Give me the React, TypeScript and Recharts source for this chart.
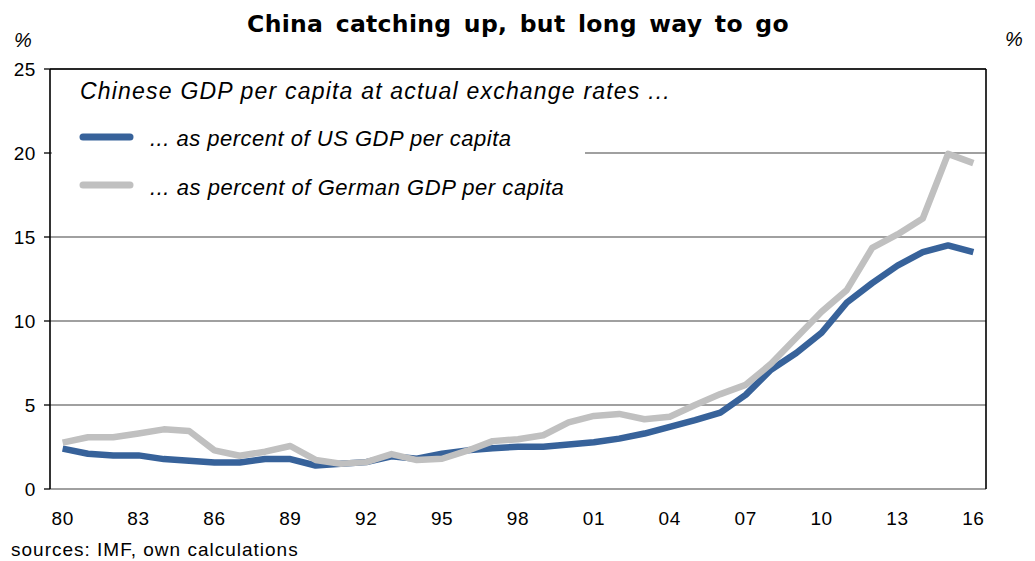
import React from "react";
import {
  LineChart,
  Line,
  XAxis,
  YAxis,
  CartesianGrid,
  ReferenceLine,
  Legend,
} from "recharts";

const years = [
  1980, 1981, 1982, 1983, 1984, 1985, 1986, 1987, 1988, 1989, 1990, 1991,
  1992, 1993, 1994, 1995, 1996, 1997, 1998, 1999, 2000, 2001, 2002, 2003,
  2004, 2005, 2006, 2007, 2008, 2009, 2010, 2011, 2012, 2013, 2014, 2015,
  2016,
];

const usShare = [
  2.4, 2.1, 2.0, 2.0, 1.78, 1.68, 1.58, 1.58, 1.78, 1.78, 1.4, 1.5, 1.6,
  1.95, 1.8, 2.1, 2.3, 2.42, 2.52, 2.52, 2.65, 2.78, 3.0, 3.3, 3.7, 4.1,
  4.55, 5.6, 7.1, 8.1, 9.3, 11.1, 12.25, 13.3, 14.1, 14.5, 14.1,
];

const germanShare = [
  2.76, 3.08, 3.08, 3.3, 3.55, 3.45, 2.3, 1.98, 2.22, 2.56, 1.73, 1.5, 1.6,
  2.08, 1.72, 1.8, 2.28, 2.85, 2.96, 3.2, 3.97, 4.35, 4.47, 4.15, 4.3, 5.0,
  5.65, 6.2, 7.45, 9.0, 10.55, 11.85, 14.35, 15.15, 16.1, 19.95, 19.4,
];

const xLabelYears = [1980, 1983, 1986, 1989, 1992, 1995, 1998, 2001, 2004, 2007, 2010, 2013, 2016];
const xTickLabels = ["80", "83", "86", "89", "92", "95", "98", "01", "04", "07", "10", "13", "16"];
const yTicks = [0, 5, 10, 15, 20, 25];

const legendTitle = "Chinese GDP per capita at actual exchange rates ...";
const usLabel = "... as percent of US GDP per capita";
const deLabel = "... as percent of German GDP per capita";

const BLUE = "#37629A";
const GRAY = "#C0C0C0";

const data = years.map((y, i) => ({ year: y, us: usShare[i], de: germanShare[i] }));
const boundaryTicks = years.map((y) => y - 0.5).concat([years[years.length - 1] + 0.5]);

const sansFont = "'Liberation Sans', Arial, sans-serif";

const LegendBox = () => (
  <svg width={640} height={140} style={{ display: "block", overflow: "visible" }}>
    <rect x={0} y={41} width={533} height={99} fill="#fff" />
    <text x={28} y={27} fontFamily={sansFont} fontStyle="italic" fontSize={23} fill="#000" letterSpacing={1.2}>
      {legendTitle}
    </text>
    <line x1={31} x2={78} y1={65} y2={65} stroke={BLUE} strokeWidth={7} strokeLinecap="round" />
    <text x={98} y={74} fontFamily={sansFont} fontStyle="italic" fontSize={22} fill="#000" letterSpacing={0.5}>
      {usLabel}
    </text>
    <line x1={31} x2={78} y1={113} y2={113} stroke={GRAY} strokeWidth={7} strokeLinecap="round" />
    <text x={98} y={123} fontFamily={sansFont} fontStyle="italic" fontSize={22} fill="#000" letterSpacing={0.55}>
      {deLabel}
    </text>
  </svg>
);

export default function App() {
  const labelMap: Record<number, string> = {};
  xLabelYears.forEach((y, i) => (labelMap[y] = xTickLabels[i]));
  return (
    <div style={{ position: "absolute", left: 0, top: 0, width: 1035, height: 561, background: "#fff" }}>
      <LineChart
        width={1035}
        height={561}
        data={data}
        margin={{ top: 69, right: 0, bottom: 0, left: 0 }}
      >
        <CartesianGrid
          vertical={false}
          stroke="#808080"
          strokeWidth={1.3}
          yAxisId="left"
          xAxisId="labels"
        />
        <XAxis
          xAxisId="marks"
          dataKey="year"
          type="number"
          domain={[1979.5, 2016.5]}
          ticks={boundaryTicks}
          interval={0}
          height={0}
          tickSize={6}
          tickFormatter={() => ""}
          axisLine={{ stroke: "#000", strokeWidth: 1.6 }}
          tickLine={{ stroke: "#000", strokeWidth: 1.3 }}
        />
        <XAxis
          xAxisId="labels"
          dataKey="year"
          type="number"
          domain={[1979.5, 2016.5]}
          ticks={xLabelYears}
          interval={0}
          height={72}
          axisLine={false}
          tickLine={false}
          tickSize={0}
          tickMargin={23}
          tickFormatter={(v: number) => labelMap[v] ?? ""}
          tick={{ fill: "#000", fontSize: 19, fontFamily: sansFont, letterSpacing: 0.6 }}
        />
        <YAxis
          yAxisId="left"
          orientation="left"
          width={50}
          domain={[0, 25]}
          ticks={yTicks}
          interval={0}
          tickSize={6}
          tickMargin={8}
          axisLine={{ stroke: "#000", strokeWidth: 1.6 }}
          tickLine={{ stroke: "#000", strokeWidth: 1.3 }}
          tick={{ fill: "#000", fontSize: 19, fontFamily: sansFont, letterSpacing: 0.6 }}
        />
        <YAxis
          yAxisId="right"
          orientation="right"
          width={49}
          domain={[0, 25]}
          ticks={yTicks}
          interval={0}
          tickSize={6}
          tickMargin={12}
          axisLine={{ stroke: "#000", strokeWidth: 1.6 }}
          tickLine={{ stroke: "#000", strokeWidth: 1.3 }}
          tick={{ fill: "#000", fontSize: 19, fontFamily: sansFont, letterSpacing: 0.6 }}
        />
        <ReferenceLine y={25} yAxisId="left" xAxisId="labels" stroke="#000" strokeWidth={1.6} />
        <Line
          xAxisId="labels"
          yAxisId="left"
          dataKey="us"
          name={usLabel}
          stroke={BLUE}
          strokeWidth={6.5}
          dot={false}
          strokeLinejoin="round"
          isAnimationActive={false}
        />
        <Line
          xAxisId="labels"
          yAxisId="left"
          dataKey="de"
          name={deLabel}
          stroke={GRAY}
          strokeWidth={6.5}
          dot={false}
          strokeLinejoin="round"
          isAnimationActive={false}
        />
        <Legend
          layout="horizontal"
          verticalAlign="middle"
          align="center"
          content={() => <LegendBox />}
          wrapperStyle={{ position: "absolute", left: 52, top: 72, width: 640, height: 140, bottom: "auto", right: "auto" }}
        />
      </LineChart>
      <svg
        width={1035}
        height={561}
        style={{ position: "absolute", left: 0, top: 0, pointerEvents: "none" }}
      >
        <text
          x={518}
          y={32}
          textAnchor="middle"
          fontFamily="'DejaVu Sans', Verdana, sans-serif"
          fontWeight="bold"
          fontSize={23.5}
          fill="#000"
          letterSpacing={0.3}
          wordSpacing={4}
        >
          China catching up, but long way to go
        </text>
        <text x={14} y={47} fontFamily={sansFont} fontStyle="italic" fontSize={20} fill="#000">
          %
        </text>
        <text x={1005} y={46} fontFamily={sansFont} fontStyle="italic" fontSize={20} fill="#000">
          %
        </text>
        <text x={11} y={556} fontFamily={sansFont} fontSize={19} fill="#000" letterSpacing={1}>
          sources: IMF, own calculations
        </text>
      </svg>
    </div>
  );
}
